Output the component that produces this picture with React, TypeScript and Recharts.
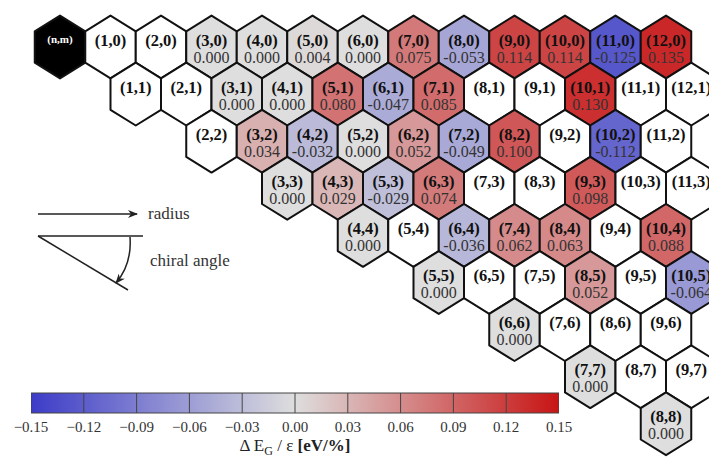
import { ScatterChart, Scatter, XAxis, YAxis, BarChart, Bar, ReferenceLine, Label } from 'recharts';

// band-gap strain response per chirality, one array per m row (n runs from m upward)
const gapM0 = [null, null, null, 0.0, 0.0, 0.004, 0.0, 0.075, -0.053, 0.114, 0.114, -0.125, 0.135];
const gapM1 = [null, null, 0.0, 0.0, 0.08, -0.047, 0.085, null, null, 0.13, null, null];
const gapM2 = [null, 0.034, -0.032, 0.0, 0.052, -0.049, 0.1, null, -0.112, null];
const gapM3 = [0.0, 0.029, -0.029, 0.074, null, null, 0.098, null, null];
const gapM4 = [0.0, null, -0.036, 0.062, 0.063, null, 0.088];
const gapM5 = [0.0, null, null, 0.052, null, -0.064];
const gapM6 = [0.0, null, null, null];
const gapM7 = [0.0, null, null];
const gapM8 = [0.0];
const gapRows: (number | null)[][] = [gapM0, gapM1, gapM2, gapM3, gapM4, gapM5, gapM6, gapM7, gapM8];

const cbTicks = [-0.15, -0.12, -0.09, -0.06, -0.03, 0, 0.03, 0.06, 0.09, 0.12, 0.15];
const cbData = [{ name: 'scale', range: [-0.15, 0.15] }];

const W = 709;
const H = 457;
const X0 = 60;
const DX = 50.5;
const Y0 = 47;
const DY = 47.1;
const HW = 25.25;
const R = 31.4;
const SERIF = '"Liberation Serif", "Times New Roman", serif';

const BLUE = [60, 60, 200];
const MID = [222, 222, 222];
const RED = [200, 20, 20];

type HexCell = { n: number; m: number; x: number; y: number; value: number | null; header: boolean };

const cells: HexCell[] = gapRows.flatMap((row, m) =>
  row.map((value, i) => {
    const n = m + i;
    return { n, m, x: n + m / 2, y: m, value, header: n === 0 && m === 0 };
  })
);

function colorFor(v: number) {
  const t = Math.max(-1, Math.min(1, v / 0.15));
  const end = t < 0 ? BLUE : RED;
  const a = Math.abs(t);
  const c = MID.map((mv, k) => Math.round(mv + (end[k] - mv) * a));
  return `rgb(${c[0]},${c[1]},${c[2]})`;
}

function Hexagon(props: any) {
  const { cx, cy, payload } = props;
  const cell = payload as HexCell;
  const pts = [
    [0, -R], [HW, -R / 2], [HW, R / 2], [0, R], [-HW, R / 2], [-HW, -R / 2],
  ]
    .map(([dx, dy]) => `${cx + dx},${cy + dy}`)
    .join(' ');
  let fill = '#ffffff';
  if (cell.header) fill = '#000000';
  else if (cell.value !== null) fill = colorFor(cell.value);
  return (
    <g>
      <polygon points={pts} fill={fill} stroke="#111" strokeWidth={2} strokeLinejoin="round" />
      {cell.header ? (
        <text x={cx} y={cy - 8} textAnchor="middle" dominantBaseline="central" fill="#fff"
          fontFamily={SERIF} fontWeight="bold" fontSize={11}>(n,m)</text>
      ) : (
        <text x={cx} y={cy - 7} textAnchor="middle" dominantBaseline="central" fill="#111"
          fontFamily={SERIF} fontWeight="bold" fontSize={16.5}>({cell.n},{cell.m})</text>
      )}
      {cell.value !== null && (
        <text x={cx} y={cy + 10} textAnchor="middle" dominantBaseline="central" fill="#333"
          fontFamily={SERIF} fontSize={16}>{cell.value.toFixed(3)}</text>
      )}
    </g>
  );
}

function fmtTick(v: number) {
  return v < 0 ? `\u2212${Math.abs(v).toFixed(2)}` : v.toFixed(2);
}

function AxisTitle(props: any) {
  const { viewBox } = props;
  const x = viewBox.x + viewBox.width / 2;
  const y = viewBox.y + viewBox.height - 6;
  return (
    <text x={x} y={y} textAnchor="middle" fontFamily={SERIF} fontSize={17} fill="#222">
      <tspan>{'\u0394 E'}</tspan>
      <tspan fontSize={12} dy={4}>G</tspan>
      <tspan dy={-4}>{' / \u03b5 '}</tspan>
      <tspan fontWeight="bold">[eV/%]</tspan>
    </text>
  );
}

export default function App() {
  return (
    <div style={{ position: 'relative', width: W, height: H, background: '#fff' }}>
      <style>{'body{margin:0}'}</style>
      <div style={{ position: 'absolute', left: 0, top: 0 }}>
        <ScatterChart width={W} height={H} margin={{ top: 0, right: 0, bottom: 0, left: 0 }}>
          <XAxis type="number" dataKey="x" hide allowDataOverflow domain={[-X0 / DX, (W - X0) / DX]} />
          <YAxis type="number" dataKey="y" hide reversed allowDataOverflow domain={[-Y0 / DY, (H - Y0) / DY]} />
          <Scatter data={cells} shape={Hexagon} isAnimationActive={false} />
        </ScatterChart>
      </div>
      <svg width={W} height={H} style={{ position: 'absolute', left: 0, top: 0, pointerEvents: 'none' }}>
        <defs>
          <marker id="arrowHead" markerWidth="10" markerHeight="8" refX="9" refY="4" orient="auto" markerUnits="userSpaceOnUse">
            <path d="M0,0 L10,4 L0,8 L3,4 Z" fill="#222" />
          </marker>
        </defs>
        <line x1={38} y1={214} x2={137} y2={214} stroke="#222" strokeWidth={1.5} markerEnd="url(#arrowHead)" />
        <text x={148} y={219} fontFamily={SERIF} fontSize={17} fill="#333">radius</text>
        <line x1={38} y1={236} x2={143} y2={236} stroke="#222" strokeWidth={1.5} />
        <line x1={38} y1={236} x2={128} y2={290} stroke="#222" strokeWidth={1.5} />
        <path d="M130,237 Q132,264 116,283" fill="none" stroke="#222" strokeWidth={1.5} markerEnd="url(#arrowHead)" />
        <text x={150} y={266} fontFamily={SERIF} fontSize={17} fill="#333">chiral angle</text>
      </svg>
      <div style={{ position: 'absolute', left: 0, top: 380 }}>
        <BarChart width={600} height={77} layout="vertical" data={cbData} barCategoryGap={0}
          margin={{ top: 13, right: 41, left: 31, bottom: 0 }}>
          <defs>
            <linearGradient id="cbGrad" x1="0" y1="0" x2="1" y2="0">
              <stop offset="0%" stopColor={colorFor(-0.15)} />
              <stop offset="50%" stopColor={colorFor(0)} />
              <stop offset="100%" stopColor={colorFor(0.15)} />
            </linearGradient>
          </defs>
          <XAxis type="number" domain={[-0.15, 0.15]} ticks={cbTicks} interval={0} allowDataOverflow
            tickFormatter={fmtTick} axisLine={false} tickLine={false} height={44}
            tick={{ fontFamily: SERIF, fontSize: 15, fill: '#333' }}>
            <Label content={AxisTitle} />
          </XAxis>
          <YAxis type="category" dataKey="name" hide />
          <Bar dataKey="range" fill="url(#cbGrad)" stroke="#444" strokeWidth={1} isAnimationActive={false} />
          {cbTicks.slice(1, -1).map((t) => (
            <ReferenceLine key={t} x={t} stroke="#444" strokeWidth={1} />
          ))}
        </BarChart>
      </div>
    </div>
  );
}
